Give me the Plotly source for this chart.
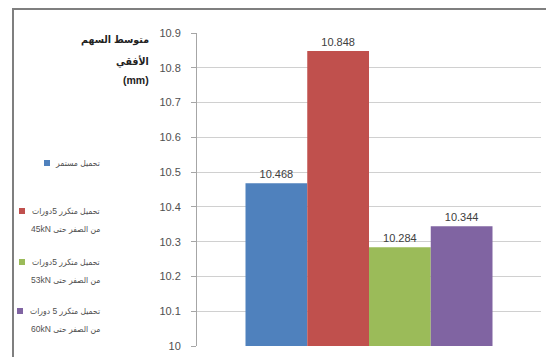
import plotly.graph_objects as go

# Series: mean horizontal deflection (mm) per loading case
series_names = [
    ["تحميل مستمر"],
    ["تحميل متكرر 5دورات", "من الصفر حتى 45kN"],
    ["تحميل متكرر 5دورات", "من الصفر حتى 53kN"],
    ["تحميل متكرر 5 دورات", "من الصفر حتى 60kN"],
]
series_values = [10.468, 10.848, 10.284, 10.344]
series_colors = ["#4F81BD", "#C0504D", "#9BBB59", "#8064A2"]
value_labels = ["10.468", "10.848", "10.284", "10.344"]
y_title_lines = ["متوسط السهم", "الأفقي", "(mm)"]
y_ticks = [10.0, 10.1, 10.2, 10.3, 10.4, 10.5, 10.6, 10.7, 10.8, 10.9]

W, H = 548, 359
ML, MR, MT, MB = 197, 7, 33, 13
PW, PH = W - ML - MR, H - MT - MB


def px_x(px):
    return (px - ML) / PW


def px_y(py):
    return (H - MB - py) / PH


def rtl(s):
    # right-to-left embedding so mixed Arabic/Latin runs order correctly
    return "\u202b" + s + "\u202c"


num_font = "Liberation Sans, Arial, sans-serif"
ar_font = "Liberation Sans, DejaVu Sans Condensed, DejaVu Sans, sans-serif"

fig = go.Figure()
for name, val, col, lab in zip(series_names, series_values, series_colors, value_labels):
    fig.add_trace(go.Bar(
        x=[""], y=[val], name=" ".join(name), marker=dict(color=col, line=dict(width=0)),
        text=[lab], textposition="outside", cliponaxis=False,
        textfont=dict(family=num_font, size=11, color="#404040"),
        showlegend=False,
    ))

annotations = []
shapes = []

# Chart frame: top and left edges
frame_col = "#7f7f7f"
shapes.append(dict(type="rect", xref="paper", yref="paper", layer="above",
                   x0=px_x(12), x1=px_x(W - 2), y0=px_y(10), y1=px_y(8),
                   fillcolor=frame_col, line=dict(width=0)))
shapes.append(dict(type="rect", xref="paper", yref="paper", layer="above",
                   x0=px_x(12), x1=px_x(14), y0=px_y(H - 2), y1=px_y(8),
                   fillcolor=frame_col, line=dict(width=0)))

# Left-hand legend: right-aligned Arabic labels with colour swatches
legend_rows = [163, 211, 262, 311]
swatch_x = [44, 19, 19, 17]
line_step = 18
for name, col, ry, sx in zip(series_names, series_colors, legend_rows, swatch_x):
    for i, line in enumerate(name):
        annotations.append(dict(
            x=px_x(102), y=px_y(ry + i * line_step), xref="paper", yref="paper",
            xanchor="right", yanchor="middle", align="right", showarrow=False,
            text=rtl(line), font=dict(family=ar_font, size=8.5, color="#505050"),
        ))
    shapes.append(dict(
        type="rect", xref="paper", yref="paper",
        x0=px_x(sx), x1=px_x(sx + 6), y0=px_y(ry + 3), y1=px_y(ry - 3),
        fillcolor=col, line=dict(width=0),
    ))

# Y-axis title, stacked lines at upper left
title_rows = [40, 61, 80]
for line, ty in zip(y_title_lines, title_rows):
    annotations.append(dict(
        x=px_x(151), y=px_y(ty), xref="paper", yref="paper",
        xanchor="right", yanchor="middle", align="right", showarrow=False,
        text="<b>" + rtl(line) + "</b>",
        font=dict(family=ar_font, size=10.5, color="#222222"),
    ))

fig.update_layout(
    width=W, height=H,
    margin=dict(l=ML, r=MR, t=MT, b=MB),
    paper_bgcolor="white", plot_bgcolor="white",
    barmode="group", bargap=0.282, bargroupgap=0,
    annotations=annotations, shapes=shapes,
    xaxis=dict(showticklabels=False, showgrid=False, zeroline=False,
               showline=False, range=[-0.5, 0.5], fixedrange=True),
    yaxis=dict(
        range=[10.0, 10.9], tickvals=y_ticks, ticks="outside", ticklen=5,
        tickcolor="#a6a6a6", showline=True, linecolor="#a6a6a6", linewidth=1,
        gridcolor="#d0d0d0", gridwidth=1, zeroline=False,
        tickfont=dict(family=num_font, size=11, color="#505050"),
        ticklabelstandoff=8,
    ),
)

fig.write_html("out.html")
